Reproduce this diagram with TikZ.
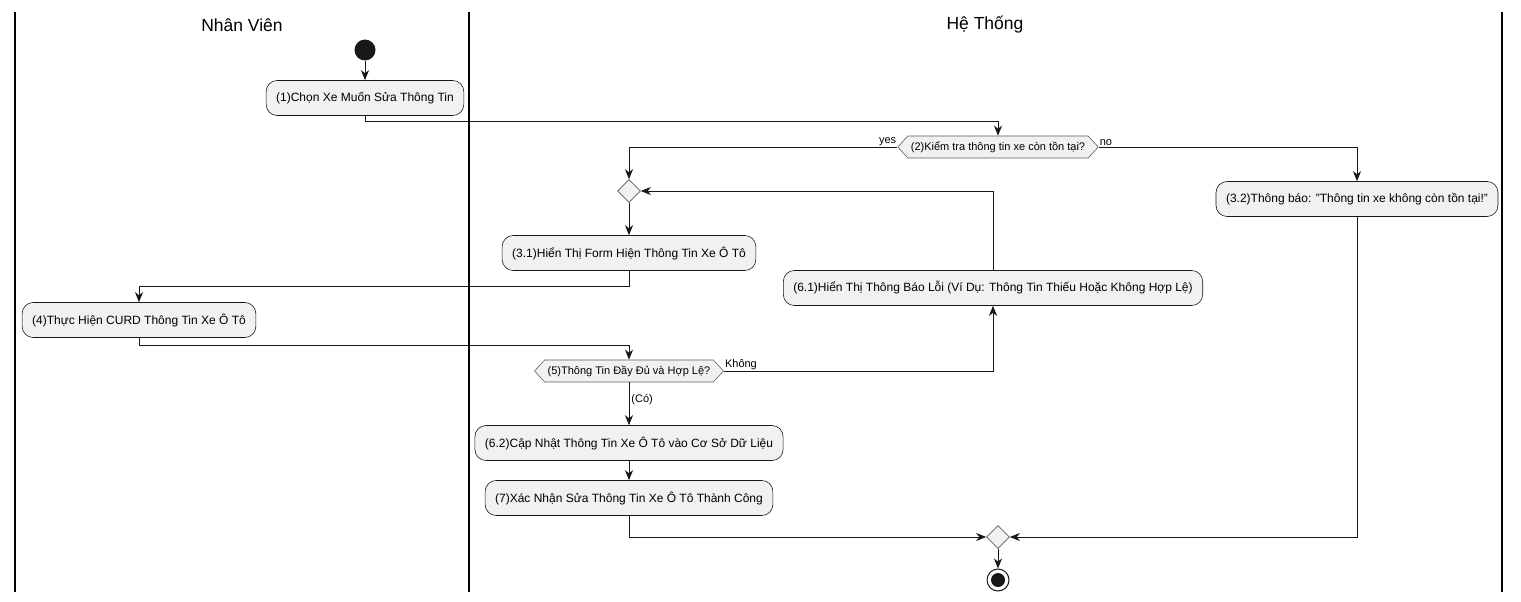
\documentclass[tikz,border=0pt]{standalone}
\usepackage{fontspec}
\setmainfont{Liberation Sans}
\usetikzlibrary{arrows.meta,shapes.symbols,shapes.geometric,calc}
\definecolor{ln}{HTML}{181818}
\definecolor{bx}{HTML}{F1F1F1}
\tikzset{
  act/.style={draw=ln, fill=bx, rounded corners=11pt, line width=0.6pt, minimum height=35pt, inner xsep=10pt, font=\fontsize{12}{14}\selectfont},
  dec/.style={draw=ln!70, fill=bx, signal, signal to=west and east, signal pointer angle=95, minimum height=22pt, inner xsep=3pt, inner ysep=2pt, line width=0.6pt, font=\fontsize{11}{13}\selectfont},
  mrg/.style={draw=ln!70, fill=bx, diamond, minimum width=23pt, minimum height=23pt, inner sep=0pt, line width=0.6pt},
  arr/.style={draw=ln, line width=0.9pt, -{Stealth[length=10pt,width=8pt,inset=3pt]}},
  lane/.style={draw=black, line width=1.5pt},
  lbl/.style={font=\fontsize{11}{13}\selectfont, inner sep=1pt},
  ttl/.style={font=\fontsize{17.5}{20}\selectfont}
}
\begin{document}
\begin{tikzpicture}[x=1pt,y=-1pt]
\useasboundingbox (0,0) rectangle (1521,602);
% lanes
\coordinate (l1t) at (15,12); \coordinate (l1b) at (15,592);
\coordinate (l2t) at (469,12); \coordinate (l2b) at (469,592);
\coordinate (l3t) at (1502,12); \coordinate (l3b) at (1502,592);
\draw[lane] (l1t) -- (l1b);
\draw[lane] (l2t) -- (l2b);
\draw[lane] (l3t) -- (l3b);
\node[ttl] (t1) at (242,25) {Nhân Viên};
\node[ttl] (t2) at (985,25) {Hệ Thống};
% nodes
\node[circle, fill=ln, minimum size=21pt, inner sep=0pt] (start) at (365,50) {};
\node[act] (a1) at (365,98) {(1)Chọn Xe Muốn Sửa Thông Tin};
\node[dec, minimum width=194pt] (d2) at (998,147) {(2)Kiểm tra thông tin xe còn tồn tại?};
\node[mrg] (m1) at (629,191) {};
\node[act] (a31) at (629,253) {(3.1)Hiển Thị Form Hiện Thông Tin Xe Ô Tô};
\node[act] (a32) at (1357,199) {(3.2)Thông báo: "Thông tin xe không còn tồn tại!"};
\node[act] (a4) at (139,320) {(4)Thực Hiện CURD Thông Tin Xe Ô Tô};
\node[act] (a61) at (993,288) {(6.1)Hiển Thị Thông Báo Lỗi (Ví Dụ: Thông Tin Thiếu Hoặc Không Hợp Lệ)};
\node[dec, minimum width=183pt] (d5) at (629,371) {(5)Thông Tin Đầy Đủ và Hợp Lệ?};
\node[act] (a62) at (629,443) {(6.2)Cập Nhật Thông Tin Xe Ô Tô vào Cơ Sở Dữ Liệu};
\node[act] (a7) at (629,498) {(7)Xác Nhận Sửa Thông Tin Xe Ô Tô Thành Công};
\node[mrg] (m2) at (998,537) {};
\node[circle, draw=ln, line width=1pt, fill=white, minimum size=22pt, inner sep=0pt] (end) at (998,580) {};
\node[circle, fill=ln, minimum size=14pt, inner sep=0pt] (endi) at (998,580) {};
% connectors
\draw[arr] (start) -- (a1);
\draw[arr] (a1.south) -- ++(0,6) -| (d2.north);
\draw[arr] (d2.west) -| (m1.north);
\node[lbl, anchor=south east] (ly) at (d2.west) {yes};
\draw[arr] (d2.east) -| (a32.north);
\node[lbl, anchor=south west] (ln) at (d2.east) {no};
\draw[arr] (m1) -- (a31);
\draw[arr] (a31.south) -- ++(0,16) -| (a4.north);
\draw[arr] (a4.south) -- ++(0,8) -| (d5.north);
\draw[arr] (d5.east) -| (a61.south);
\node[lbl, anchor=south west] (lk) at (d5.east) {Không};
\draw[arr] (a61.north) |- (m1.east);
\draw[arr] (d5.south) -- (a62.north) node[lbl, pos=0.4, right=1pt] (lc) {(Có)};
\draw[arr] (a62) -- (a7);
\draw[arr] (a7.south) |- (m2.west);
\draw[arr] (a32.south) |- (m2.east);
\draw[arr] (m2) -- (end);
\end{tikzpicture}
\end{document}
